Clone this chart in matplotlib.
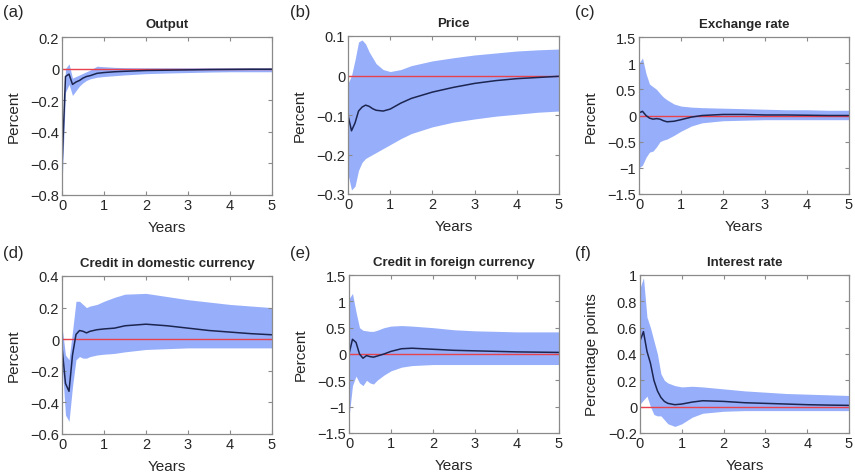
import numpy as np
import matplotlib.pyplot as plt

plt.rcParams['font.family'] = ['Liberation Sans', 'DejaVu Sans']

# horizon in years (monthly steps early on, coarser later)
years = [0, 0.083, 0.167, 0.25, 0.333, 0.417, 0.5, 0.583, 0.667, 0.833,
         1.0, 1.25, 1.5, 2, 2.5, 3, 3.5, 4, 4.5, 5]

# median response and 68% bands for each variable
output_mid = [-0.62, -0.05, -0.035, -0.1, -0.085, -0.075, -0.06, -0.05, -0.045, -0.03,
              -0.025, -0.02, -0.017, -0.012, -0.01, -0.008, -0.006, -0.005, -0.004, -0.004]
output_hi = [-0.5, 0.0, 0.03, -0.06, -0.05, -0.04, -0.03, -0.02, -0.01, 0.015,
             0.012, 0.008, 0.006, 0.005, 0.005, 0.005, 0.005, 0.005, 0.005, 0.005]
output_lo = [-0.75, -0.15, -0.1, -0.17, -0.14, -0.11, -0.09, -0.075, -0.065, -0.055,
             -0.05, -0.045, -0.04, -0.032, -0.028, -0.025, -0.022, -0.02, -0.02, -0.02]

price_mid = [-0.1, -0.14, -0.12, -0.09, -0.08, -0.075, -0.078, -0.084, -0.088, -0.09,
             -0.085, -0.07, -0.058, -0.042, -0.03, -0.02, -0.013, -0.008, -0.005, -0.002]
price_hi = [-0.02, 0.0, 0.04, 0.085, 0.09, 0.08, 0.06, 0.045, 0.03, 0.015,
            0.01, 0.015, 0.025, 0.037, 0.045, 0.052, 0.057, 0.062, 0.065, 0.067]
price_lo = [-0.25, -0.29, -0.28, -0.24, -0.22, -0.21, -0.205, -0.2, -0.195, -0.185,
            -0.175, -0.16, -0.147, -0.13, -0.118, -0.11, -0.103, -0.098, -0.093, -0.09]

fx_mid = [0.05, 0.08, 0.0, -0.05, -0.07, -0.06, -0.07, -0.1, -0.12, -0.11,
          -0.08, -0.03, 0.0, 0.02, 0.02, 0.01, 0.01, 0.005, 0.0, 0.0]
fx_hi = [1.0, 1.1, 0.8, 0.6, 0.55, 0.5, 0.42, 0.35, 0.3, 0.22,
         0.18, 0.16, 0.15, 0.14, 0.13, 0.12, 0.11, 0.11, 0.1, 0.1]
fx_lo = [-1.0, -0.95, -0.8, -0.7, -0.68, -0.6, -0.5, -0.47, -0.45, -0.38,
         -0.3, -0.2, -0.14, -0.1, -0.09, -0.08, -0.08, -0.08, -0.08, -0.08]

dom_mid = [-0.05, -0.28, -0.33, -0.1, 0.03, 0.055, 0.05, 0.04, 0.05, 0.06,
           0.065, 0.07, 0.085, 0.095, 0.085, 0.07, 0.055, 0.045, 0.035, 0.028]
dom_hi = [0.08, -0.1, -0.13, 0.05, 0.24, 0.24, 0.22, 0.2, 0.21, 0.22,
          0.24, 0.265, 0.285, 0.29, 0.27, 0.25, 0.235, 0.22, 0.21, 0.2]
dom_lo = [-0.15, -0.48, -0.52, -0.3, -0.13, -0.11, -0.12, -0.12, -0.11, -0.1,
          -0.095, -0.09, -0.08, -0.065, -0.06, -0.055, -0.055, -0.055, -0.055, -0.055]

fc_mid = [0.0, 0.28, 0.22, 0.0, -0.08, -0.03, -0.05, -0.06, -0.04, 0.0,
          0.05, 0.1, 0.11, 0.09, 0.07, 0.06, 0.05, 0.04, 0.035, 0.03]
fc_hi = [1.05, 1.15, 0.8, 0.5, 0.45, 0.44, 0.43, 0.43, 0.45, 0.5,
         0.53, 0.54, 0.53, 0.5, 0.46, 0.44, 0.43, 0.42, 0.42, 0.42]
fc_lo = [-1.2, -0.6, -0.42, -0.55, -0.6, -0.5, -0.55, -0.57, -0.5, -0.4,
         -0.32, -0.25, -0.22, -0.2, -0.2, -0.2, -0.2, -0.2, -0.2, -0.2]

rate_mid = [0.5, 0.57, 0.42, 0.33, 0.2, 0.12, 0.07, 0.04, 0.025, 0.015,
            0.02, 0.035, 0.045, 0.04, 0.03, 0.025, 0.02, 0.015, 0.012, 0.01]
rate_hi = [0.9, 0.98, 0.68, 0.6, 0.5, 0.4, 0.25, 0.2, 0.18, 0.16,
           0.15, 0.155, 0.15, 0.135, 0.12, 0.11, 0.1, 0.095, 0.09, 0.085]
rate_lo = [0.02, 0.05, 0.08, 0.0, -0.06, -0.07, -0.07, -0.1, -0.13, -0.15,
           -0.13, -0.08, -0.05, -0.035, -0.03, -0.03, -0.03, -0.03, -0.03, -0.03]

panels = [
    ("(a)", "Output", "Percent", output_mid, output_lo, output_hi, (-0.8, 0.2), np.arange(-0.8, 0.21, 0.2)),
    ("(b)", "Price", "Percent", price_mid, price_lo, price_hi, (-0.3, 0.1), np.arange(-0.3, 0.11, 0.1)),
    ("(c)", "Exchange rate", "Percent", fx_mid, fx_lo, fx_hi, (-1.5, 1.5), np.arange(-1.5, 1.51, 0.5)),
    ("(d)", "Credit in domestic currency", "Percent", dom_mid, dom_lo, dom_hi, (-0.6, 0.4), np.arange(-0.6, 0.41, 0.2)),
    ("(e)", "Credit in foreign currency", "Percent", fc_mid, fc_lo, fc_hi, (-1.5, 1.5), np.arange(-1.5, 1.51, 0.5)),
    ("(f)", "Interest rate", "Percentage points", rate_mid, rate_lo, rate_hi, (-0.2, 1.0), np.arange(-0.2, 1.01, 0.2)),
]

W, H = 855, 477
fig = plt.figure(figsize=(W / 100, H / 100), dpi=100)

# axes boxes in pixels: left, top, right, bottom
boxes = [(62, 38, 272, 196), (348, 37, 559, 195), (639, 38, 849, 195),
         (62, 277, 272, 435), (349, 276, 559, 434), (640, 276, 849, 434)]
# panel tag anchors in pixels
tag_pos = [(3, 12), (290, 12), (575, 12), (3, 254), (290, 254), (575, 254)]

band_col = '#97affa'
line_col = '#1c2550'
zero_col = '#e8424f'
frame_col = '#8a8a8a'
text_col = '#262626'

def fmt(v):
    s = ('%.1f' % v).rstrip('0').rstrip('.')
    if s in ('-0', ''):
        s = '0'
    return s.replace('-', '\u2212')

for (tag, title, ylab, mid, lo, hi, ylim, yt), (l, t, r, b), (tx, ty) in zip(panels, boxes, tag_pos):
    ax = fig.add_axes([l / W, 1 - b / H, (r - l) / W, (b - t) / H])
    ax.fill_between(years, lo, hi, color=band_col, lw=0)
    ax.axhline(0, color=zero_col, lw=1.0)
    ax.plot(years, mid, color=line_col, lw=1.1)
    ax.set_xlim(0, 5)
    ax.set_ylim(*ylim)
    ax.set_xticks(range(6))
    ax.set_yticks(yt)
    ax.set_yticklabels([fmt(v) for v in yt])
    ax.tick_params(direction='in', length=3, width=0.8, color=frame_col,
                   labelsize=10.5, labelcolor=text_col, top=True, right=True, pad=2)
    for s in ax.spines.values():
        s.set_color(frame_col)
        s.set_linewidth(0.9)
    ax.set_title(title, fontsize=9.5, fontweight='bold', color=text_col, pad=7)
    ax.set_xlabel("Years", fontsize=11, color=text_col, labelpad=6)
    ax.set_ylabel(ylab, fontsize=11, color=text_col, labelpad=7)
    fig.text(tx / W, 1 - ty / H, tag, fontsize=12, color=text_col, va='center')

fig.savefig('out.png', dpi=100)
